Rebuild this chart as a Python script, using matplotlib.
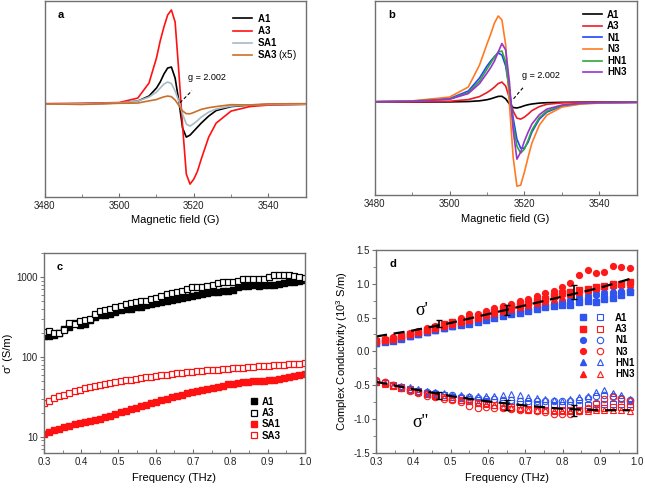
import numpy as np
import matplotlib.pyplot as plt
from matplotlib.lines import Line2D
from matplotlib.legend_handler import HandlerTuple
from matplotlib.ticker import MultipleLocator, LogLocator, NullFormatter

plt.rcParams['font.family'] = ['Liberation Sans', 'DejaVu Sans']
plt.rcParams['mathtext.fontset'] = 'custom'
plt.rcParams['mathtext.rm'] = 'Liberation Sans'
plt.rcParams['mathtext.bf'] = 'Liberation Sans:bold'
plt.rcParams['axes.unicode_minus'] = False

# ---- EPR spectra (a, b): field in G, intensity in arbitrary units ----
field = [3480, 3490, 3500, 3505, 3508, 3510, 3511, 3512, 3513, 3514, 3515, 3516,
         3517, 3518, 3519, 3520, 3521, 3522, 3524, 3526, 3530, 3535, 3540, 3550]

a_A1 = [0.1, 0.3, 1.0, 3.0, 8.0, 16.0, 22.0, 30.0, 36.0, 37.0, 26.0, 3.0,
        -24.0, -33.0, -31.0, -27.0, -23.0, -19.0, -12.0, -6.5, -2.5, -1.0, -0.5, -0.1]
a_A3 = [0.4, 0.8, 1.5, 6.0, 21.0, 46.0, 63.0, 77.0, 89.0, 94.0, 82.0, 32.0,
        -22.0, -70.0, -80.0, -75.0, -67.0, -55.0, -33.0, -19.0, -7.0, -2.5, -1.0, -0.3]
a_SA1 = [0.1, 0.3, 1.0, 3.0, 7.0, 12.0, 16.0, 20.0, 22.0, 20.5, 13.0, 3.0,
         -10.0, -20.0, -22.0, -19.5, -16.5, -13.0, -8.0, -5.0, -2.0, -0.8, -0.4, -0.1]
a_SA3 = [0.3, -0.4, 0.8, 1.0, 3.2, 4.5, 6.0, 7.2, 8.0, 7.4, 4.0, -1.3,
         -6.9, -9.6, -9.7, -8.4, -6.8, -5.3, -3.6, -2.5, -0.6, -0.9, 0.2, 0.4]

b_A1 = [0.0, 0.05, 0.2, 0.55, 1.25, 2.35, 3.3, 4.5, 5.7, 5.8, 3.2, -1.8,
        -5.4, -5.9, -4.9, -3.6, -2.6, -1.9, -1.0, -0.6, -0.25, -0.1, -0.05, 0.0]
b_A3 = [0.1, 0.2, 0.8, 2.5, 5.5, 9.5, 12.0, 15.0, 18.5, 20.0, 16.0, 4.0,
        -9.0, -16.0, -17.0, -15.0, -12.0, -8.5, -4.5, -2.2, -0.8, -0.3, -0.1, 0.0]
b_N1 = [0.4, 1.0, 3.5, 11.0, 24.0, 36.0, 41.0, 45.5, 49.0, 47.0, 36.0, 12.0,
        -16.0, -37.0, -46.0, -46.0, -40.0, -30.0, -17.0, -10.0, -4.0, -1.5, -0.7, -0.3]
b_N3 = [0.5, 1.2, 5.0, 15.0, 37.0, 58.0, 68.0, 79.0, 86.0, 82.0, 57.0, -2.0,
        -55.0, -84.0, -83.0, -70.0, -55.0, -41.0, -23.0, -13.0, -5.0, -2.0, -1.0, -0.4]
b_HN1 = [0.3, 0.9, 3.0, 9.5, 21.0, 33.0, 39.0, 45.0, 50.0, 51.0, 40.0, 12.0,
         -22.0, -44.0, -51.0, -47.0, -38.0, -28.0, -15.5, -9.0, -3.5, -1.3, -0.6, -0.2]
b_HN3 = [0.3, 0.8, 2.8, 8.5, 18.5, 29.0, 34.5, 41.0, 50.0, 58.5, 52.0, 20.0,
         -28.0, -57.0, -50.0, -39.0, -30.0, -22.0, -12.5, -7.0, -3.0, -1.2, -0.5, -0.2]

# ---- panel c: sigma' (S/m), 52 frequencies 0.30-1.00 THz ----
freq_c = np.round(0.30 + 0.0137 * np.arange(52), 4)
c_A1 = [183, 180, 188, 198, 222, 238, 262, 252, 258, 292, 312, 332, 338, 345, 365, 390,
        398, 402, 418, 425, 445, 455, 470, 485, 500, 510, 525, 540, 555, 570, 590, 610,
        625, 645, 650, 670, 665, 690, 740, 760, 775, 790, 770, 785, 790, 800, 820, 835,
        855, 870, 880, 905]
c_A3 = [207, 208, 200, 198, 215, 265, 258, 280, 290, 300, 340, 370, 390, 402, 415, 430,
        458, 472, 490, 505, 505, 525, 545, 580, 605, 620, 645, 665, 715, 745, 750, 748,
        770, 800, 850, 860, 865, 870, 900, 930, 950, 945, 930, 940, 990, 1040, 1050, 1045,
        1040, 1030, 1010, 960]
c_SA1 = [11.0, 11.5, 12.1, 12.7, 13.3, 13.8, 14.3, 14.8, 15.3, 15.8, 16.3, 16.9, 17.5,
         18.3, 19.2, 20.2, 21.2, 22.2, 23.2, 24.2, 25.2, 26.3, 27.5, 28.8, 30.0, 31.2,
         32.5, 33.8, 35.0, 36.3, 37.5, 38.7, 39.9, 41.2, 42.5, 43.8, 45.1, 46.3, 47.4,
         48.4, 49.0, 49.4, 49.8, 50.3, 51.0, 52.0, 53.3, 54.8, 56.4, 58.0, 59.6, 61.0]
c_SA3 = [26.5, 28.3, 30.2, 32.0, 33.8, 35.6, 37.3, 39.0, 40.6, 42.1, 43.5, 44.8, 46.0,
         47.2, 48.4, 49.6, 50.8, 52.0, 53.2, 54.3, 55.4, 56.5, 57.6, 58.7, 59.8, 60.9,
         62.0, 63.0, 64.0, 65.0, 66.0, 66.9, 67.8, 68.6, 69.4, 70.2, 71.0, 71.8, 72.6,
         73.4, 74.2, 75.0, 75.8, 76.5, 77.2, 78.0, 78.8, 79.6, 80.4, 81.2, 82.0, 83.0]

# ---- panel d: complex conductivity (10^3 S/m) ----
freq_d = [0.300, 0.323, 0.345, 0.368, 0.391, 0.413, 0.436, 0.459, 0.481, 0.504, 0.527,
          0.549, 0.572, 0.595, 0.617, 0.640, 0.663, 0.685, 0.708, 0.731, 0.753, 0.776,
          0.799, 0.821, 0.844, 0.867, 0.889, 0.912, 0.935, 0.957, 0.980]
d_re = {
    'A1': [0.12, 0.14, 0.16, 0.19, 0.22, 0.25, 0.28, 0.31, 0.34, 0.37, 0.39, 0.41, 0.43, 0.46,
           0.49, 0.52, 0.55, 0.57, 0.59, 0.63, 0.65, 0.67, 0.68, 0.69, 0.73, 0.75, 0.73, 0.77,
           0.79, 0.83, 0.87],
    'A3': [0.15, 0.17, 0.19, 0.22, 0.26, 0.29, 0.32, 0.36, 0.40, 0.43, 0.45, 0.48, 0.51, 0.54,
           0.58, 0.62, 0.66, 0.69, 0.72, 0.75, 0.78, 0.82, 0.86, 0.88, 0.90, 0.92, 0.95, 0.97,
           1.00, 1.00, 1.02],
    'N1': [0.13, 0.15, 0.18, 0.20, 0.23, 0.26, 0.29, 0.32, 0.35, 0.37, 0.40, 0.42, 0.45, 0.48,
           0.51, 0.54, 0.57, 0.60, 0.62, 0.65, 0.68, 0.70, 0.73, 0.76, 0.79, 0.81, 0.84, 0.85,
           0.86, 0.88, 0.90],
    'N3': [0.17, 0.19, 0.21, 0.24, 0.27, 0.30, 0.34, 0.38, 0.40, 0.44, 0.50, 0.55, 0.55, 0.59,
           0.64, 0.67, 0.70, 0.75, 0.77, 0.82, 0.86, 0.89, 0.95, 1.01, 1.13, 1.20, 1.16, 1.18,
           1.26, 1.25, 1.23],
    'HN1': [0.13, 0.15, 0.17, 0.20, 0.23, 0.26, 0.29, 0.32, 0.35, 0.38, 0.41, 0.43, 0.46, 0.49,
            0.52, 0.55, 0.58, 0.61, 0.64, 0.67, 0.70, 0.74, 0.78, 0.81, 0.85, 0.88, 0.91, 0.92,
            0.92, 0.93, 0.93],
    'HN3': [0.15, 0.17, 0.20, 0.22, 0.25, 0.28, 0.31, 0.35, 0.38, 0.41, 0.44, 0.47, 0.50, 0.53,
            0.56, 0.59, 0.63, 0.66, 0.69, 0.72, 0.74, 0.77, 0.81, 0.85, 0.88, 0.91, 0.94, 0.96,
            0.98, 0.99, 1.00],
}
d_im = {
    'A1': [-0.45, -0.47, -0.50, -0.53, -0.56, -0.58, -0.61, -0.63, -0.65, -0.67, -0.69, -0.71,
           -0.72, -0.74, -0.75, -0.76, -0.77, -0.78, -0.78, -0.79, -0.80, -0.80, -0.80, -0.80,
           -0.79, -0.79, -0.78, -0.78, -0.78, -0.78, -0.78],
    'A3': [-0.45, -0.47, -0.51, -0.54, -0.57, -0.60, -0.63, -0.65, -0.67, -0.70, -0.72, -0.74,
           -0.76, -0.77, -0.79, -0.81, -0.82, -0.84, -0.85, -0.86, -0.87, -0.87, -0.87, -0.87,
           -0.86, -0.85, -0.84, -0.84, -0.82, -0.82, -0.82],
    'N1': [-0.44, -0.46, -0.49, -0.52, -0.55, -0.58, -0.60, -0.62, -0.64, -0.65, -0.67, -0.68,
           -0.69, -0.70, -0.71, -0.72, -0.72, -0.73, -0.73, -0.74, -0.74, -0.74, -0.74, -0.73,
           -0.72, -0.69, -0.66, -0.64, -0.66, -0.69, -0.72],
    'N3': [-0.42, -0.46, -0.50, -0.54, -0.58, -0.62, -0.66, -0.68, -0.70, -0.72, -0.75, -0.81,
           -0.83, -0.82, -0.83, -0.84, -0.85, -0.86, -0.87, -0.88, -0.90, -0.92, -0.93, -0.93,
           -0.88, -0.84, -0.76, -0.71, -0.67, -0.70, -0.73],
    'HN1': [-0.45, -0.47, -0.49, -0.51, -0.53, -0.56, -0.58, -0.60, -0.62, -0.64, -0.65, -0.66,
            -0.66, -0.66, -0.66, -0.65, -0.63, -0.65, -0.67, -0.69, -0.71, -0.72, -0.73, -0.71,
            -0.68, -0.66, -0.60, -0.57, -0.62, -0.65, -0.70],
    'HN3': [-0.46, -0.48, -0.51, -0.54, -0.57, -0.60, -0.63, -0.66, -0.68, -0.70, -0.72, -0.74,
            -0.76, -0.78, -0.80, -0.82, -0.83, -0.85, -0.86, -0.86, -0.87, -0.88, -0.88, -0.88,
            -0.88, -0.88, -0.87, -0.87, -0.87, -0.87, -0.88],
}
fit_f = [0.30, 0.40, 0.50, 0.60, 0.70, 0.80, 0.90, 0.98]
fit_re = [0.22, 0.31, 0.42, 0.55, 0.68, 0.81, 0.94, 1.07]
fit_im = [-0.45, -0.56, -0.66, -0.74, -0.80, -0.85, -0.87, -0.87]
err_f = [0.47, 0.65, 0.83]
err_re = [0.41, 0.61, 0.88]
err_re_sd = [0.05, 0.07, 0.10]
err_im = [-0.65, -0.79, -0.87]
err_im_sd = [0.05, 0.07, 0.08]

FRAME = '#707070'
TICK_FS = 7
LABEL_FS = 8
BOLD = {'weight': 'bold', 'size': 7}


def style(ax):
    for s in ax.spines.values():
        s.set_color(FRAME)
        s.set_linewidth(1.0)
    ax.tick_params(axis='x', which='both', direction='in', top=False, colors=FRAME,
                   labelcolor='#222222', labelsize=TICK_FS, pad=3.0)
    ax.tick_params(axis='y', which='both', direction='out', right=False, colors=FRAME,
                   labelcolor='#222222', labelsize=TICK_FS, pad=1.5)
    ax.tick_params(which='major', length=3)
    ax.tick_params(which='minor', length=2)


fig = plt.figure(figsize=(6.45, 4.88), dpi=100)

# ---------- a ----------
ax = fig.add_axes([0.069, 0.596, 0.405, 0.402])
ax.plot(field, a_A1, color='black', lw=1.2, label=r'$\mathbf{A1}$')
ax.plot(field, a_A3, color='#ff1111', lw=1.2, label=r'$\mathbf{A3}$')
ax.plot(field, a_SA1, color='#a7bac4', lw=1.2, label=r'$\mathbf{SA1}$')
ax.plot(field, a_SA3, color='#c8702a', lw=1.2, label=r'$\mathbf{SA3}$ (x5)')
ax.plot([3516.3, 3519.5], [1.3, 13.3], color='black', lw=0.8, ls=(0, (3, 2)))
ax.text(3518.5, 27, 'g = 2.002', fontsize=6.5, va='center')
ax.text(0.05, 0.93, 'a', transform=ax.transAxes, fontsize=8, fontweight='bold', va='center')
ax.set_xlim(3480, 3550)
ax.set_ylim(-93, 103)
ax.set_yticks([])
ax.set_xticks([3480, 3500, 3520, 3540])
ax.xaxis.set_minor_locator(MultipleLocator(10))
ax.set_xlabel('Magnetic field (G)', fontsize=LABEL_FS, labelpad=3.0)
style(ax)
ax.legend(loc='upper left', bbox_to_anchor=(0.72, 0.945), frameon=False, fontsize=7,
          handlelength=2.0, handletextpad=0.5, labelspacing=0.02, borderpad=0, borderaxespad=0)

# ---------- b ----------
ax = fig.add_axes([0.581, 0.600, 0.406, 0.398])
ax.plot(field, b_A1, color='black', lw=1.2, label='A1')
ax.plot(field, b_A3, color='#ee1c24', lw=1.2, label='A3')
ax.plot(field, b_N1, color='#2244ff', lw=1.2, label='N1')
ax.plot(field, b_N3, color='#ff7a22', lw=1.2, label='N3')
ax.plot(field, b_HN1, color='#2ea836', lw=1.2, label='HN1')
ax.plot(field, b_HN3, color='#9933cc', lw=1.2, label='HN3')
ax.plot([3517.1, 3519.7], [3.3, 14.7], color='black', lw=0.8, ls=(0, (3, 2)))
ax.text(3519.3, 27, 'g = 2.002', fontsize=6.5, va='center')
ax.text(0.05, 0.93, 'b', transform=ax.transAxes, fontsize=8, fontweight='bold', va='center')
ax.set_xlim(3480, 3550)
ax.set_ylim(-93, 101)
ax.set_yticks([])
ax.set_xticks([3480, 3500, 3520, 3540])
ax.xaxis.set_minor_locator(MultipleLocator(10))
ax.set_xlabel('Magnetic field (G)', fontsize=LABEL_FS, labelpad=3.0)
style(ax)
ax.legend(loc='upper left', bbox_to_anchor=(0.794, 0.955), frameon=False, prop=BOLD,
          handlelength=2.0, handletextpad=0.5, labelspacing=0.16, borderpad=0, borderaxespad=0)

# ---------- c ----------
ax = fig.add_axes([0.068, 0.072, 0.405, 0.410])
ms = 4.0
ax.plot(freq_c, c_A1, 's', color='black', ms=ms, label='A1')
ax.plot(freq_c, c_A3, 's', mfc='white', mec='black', mew=0.9, ms=ms, label='A3')
ax.plot(freq_c, c_SA1, 's', color='#ff1111', ms=ms, label='SA1')
ax.plot(freq_c, c_SA3, 's', mfc='white', mec='#ff1111', mew=0.9, ms=ms, label='SA3')
ax.set_yscale('log')
ax.set_xlim(0.3, 1.0)
ax.set_ylim(6.3, 2000)
ax.set_yticks([10, 100, 1000])
ax.set_yticklabels(['10', '100', '1000'])
ax.yaxis.set_minor_locator(LogLocator(base=10, subs=np.arange(2, 10)))
ax.yaxis.set_minor_formatter(NullFormatter())
ax.xaxis.set_major_locator(MultipleLocator(0.1))
ax.xaxis.set_minor_locator(MultipleLocator(0.05))
ax.xaxis.set_major_formatter(plt.FormatStrFormatter('%.1f'))
ax.set_xlabel('Frequency (THz)', fontsize=LABEL_FS, labelpad=4.5)
ax.set_ylabel("σ' (S/m)", fontsize=LABEL_FS, labelpad=2)
ax.text(0.05, 0.93, 'c', transform=ax.transAxes, fontsize=8, fontweight='bold', va='center')
style(ax)
ax.legend(loc='upper left', bbox_to_anchor=(0.79, 0.28), frameon=False, prop=BOLD,
          handlelength=0.8, handletextpad=0.4, labelspacing=0.13, borderpad=0, borderaxespad=0)

# ---------- d ----------
ax = fig.add_axes([0.583, 0.072, 0.405, 0.416])
blue, red = '#2f55ee', '#ff1a1a'
styles = [('A1', 's', blue), ('A3', 's', red), ('N1', 'o', blue),
          ('N3', 'o', red), ('HN1', '^', blue), ('HN3', '^', red)]
handles, labels = [], []
for draw_color in (blue, red):
    for name, mk, col in styles:
        if col != draw_color:
            continue
        ax.plot(freq_d, d_re[name], mk, color=col, ms=4.2, ls='none')
        ax.plot(freq_d, d_im[name], mk, mfc='none', mec=col, mew=0.8, ms=4.6, ls='none')
for name, mk, col in styles:
    h1 = Line2D([], [], marker=mk, color=col, ls='none', ms=4.2)
    h2 = Line2D([], [], marker=mk, mfc='none', mec=col, mew=0.8, ls='none', ms=4.6)
    handles.append((h1, h2))
    labels.append(name)
ax.plot(fit_f, fit_re, color='black', lw=1.6, ls=(0, (5, 3)))
ax.plot(fit_f, fit_im, color='black', lw=1.6, ls=(0, (5, 3)))
ax.errorbar(err_f, err_re, yerr=err_re_sd, fmt='none', ecolor='black', elinewidth=1.2, capsize=2.5)
ax.errorbar(err_f, err_im, yerr=err_im_sd, fmt='none', ecolor='black', elinewidth=1.2, capsize=2.5)
ax.text(0.4225, 0.61, "σ'", family=['Liberation Serif', 'DejaVu Serif'], fontsize=13,
        ha='center', va='center')
ax.text(0.418, -1.05, "σ''", family=['Liberation Serif', 'DejaVu Serif'], fontsize=13,
        ha='center', va='center')
ax.text(0.05, 0.93, 'd', transform=ax.transAxes, fontsize=8, fontweight='bold', va='center')
ax.set_xlim(0.3, 1.0)
ax.set_ylim(-1.5, 1.5)
ax.yaxis.set_major_locator(MultipleLocator(0.5))
ax.yaxis.set_minor_locator(MultipleLocator(0.25))
ax.yaxis.set_major_formatter(plt.FormatStrFormatter('%.1f'))
ax.xaxis.set_major_locator(MultipleLocator(0.1))
ax.xaxis.set_minor_locator(MultipleLocator(0.05))
ax.xaxis.set_major_formatter(plt.FormatStrFormatter('%.1f'))
ax.set_xlabel('Frequency (THz)', fontsize=LABEL_FS, labelpad=4.5)
ax.set_ylabel('Complex Conductivity (10$^3$ S/m)', fontsize=LABEL_FS, labelpad=2)
style(ax)
ax.legend(handles, labels, handler_map={tuple: HandlerTuple(ndivide=None, pad=0.5)},
          loc='upper left', bbox_to_anchor=(0.77, 0.69), frameon=False, prop=BOLD,
          handlelength=3.0, handletextpad=0.9, labelspacing=0.13, borderpad=0, borderaxespad=0)

fig.savefig('out.png', dpi=100)
